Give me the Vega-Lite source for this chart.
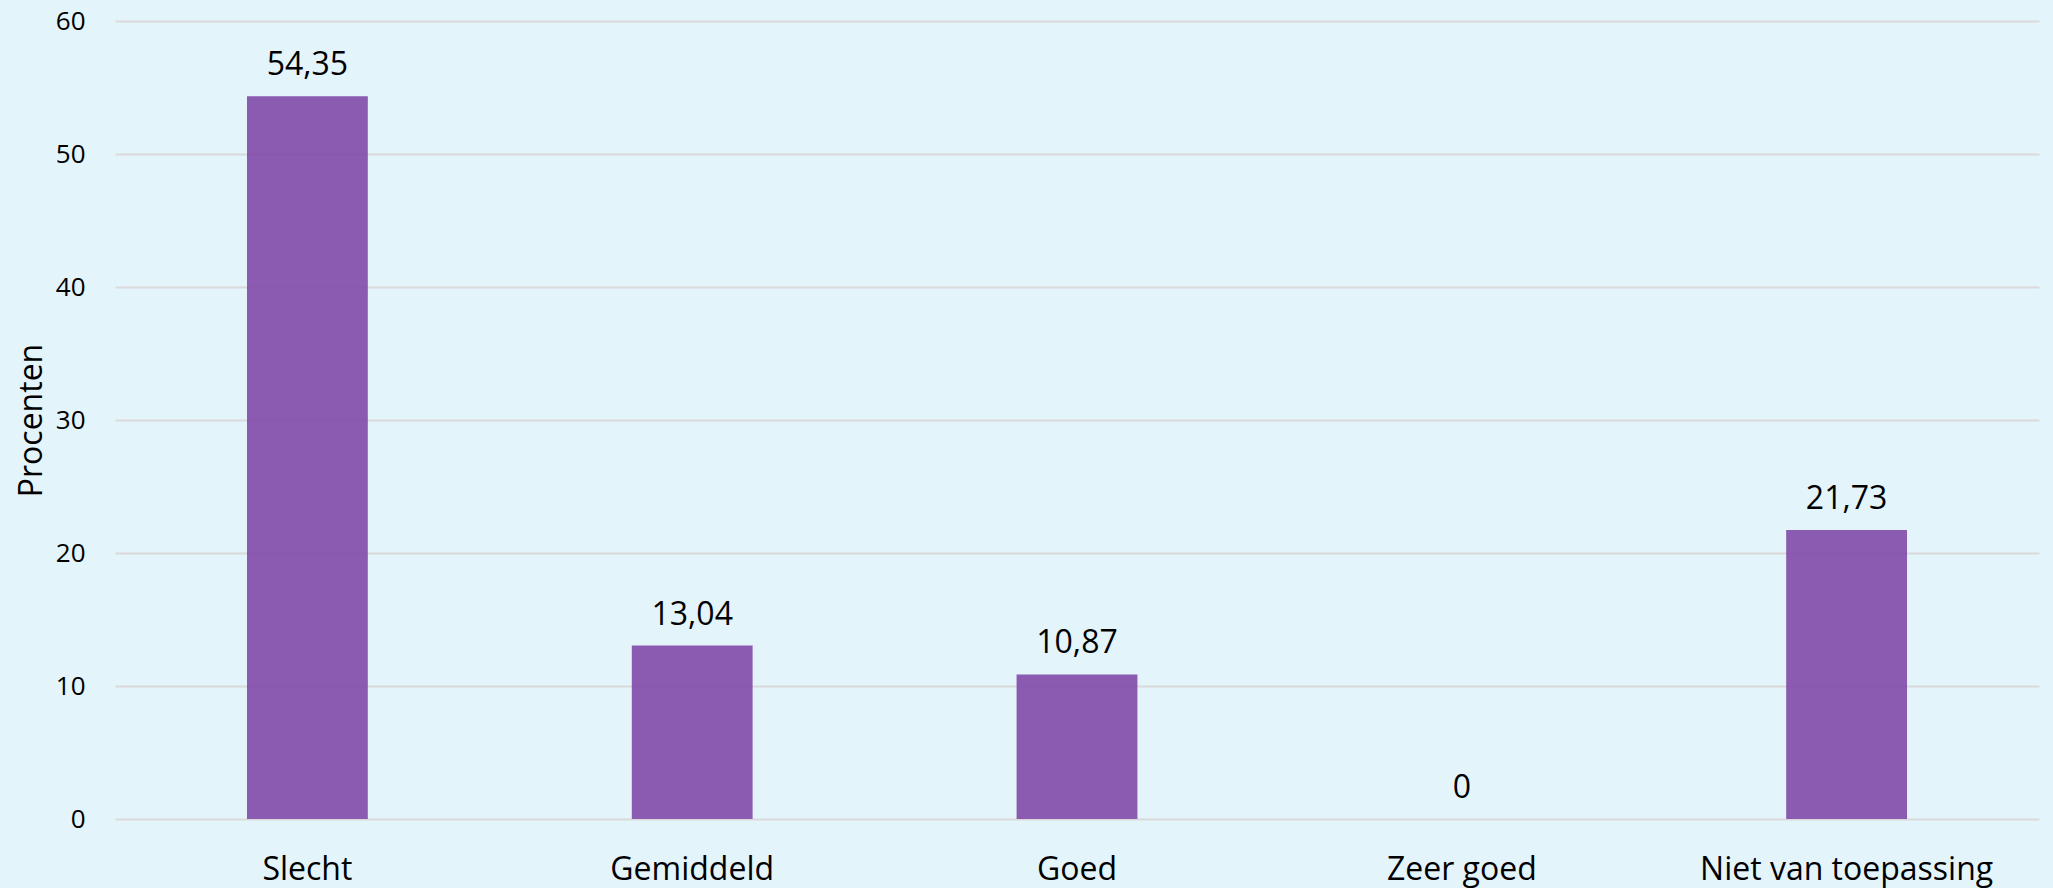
{
  "$schema": "https://vega.github.io/schema/vega-lite/v6.json",
  "autosize": "none",
  "width": 1924,
  "height": 798,
  "padding": {"left": 115, "top": 21, "right": 14, "bottom": 69},
  "background": "#E4F4FB",
  "config": {
    "view": {"stroke": null},
    "font": "Open Sans"
  },
  "data": {
    "values": [
      {"categorie": "Slecht", "waarde": 54.35, "label": "54,35"},
      {"categorie": "Gemiddeld", "waarde": 13.04, "label": "13,04"},
      {"categorie": "Goed", "waarde": 10.87, "label": "10,87"},
      {"categorie": "Zeer goed", "waarde": 0, "label": "0"},
      {"categorie": "Niet van toepassing", "waarde": 21.73, "label": "21,73"}
    ]
  },
  "encoding": {
    "x": {
      "field": "categorie",
      "type": "nominal",
      "sort": null,
      "scale": {"paddingInner": 0.686, "paddingOuter": 0.343},
      "axis": {
        "title": null,
        "labelAngle": 0,
        "labelFontSize": 32,
        "labelLimit": 0,
        "labelColor": "#000000",
        "labelPadding": 35,
        "ticks": false,
        "domain": false,
        "grid": false
      }
    },
    "y": {
      "field": "waarde",
      "type": "quantitative",
      "scale": {"domain": [0, 60]},
      "axis": {
        "title": "Procenten",
        "titleFontSize": 32,
        "titleFontWeight": "normal",
        "titleColor": "#000000",
        "titlePadding": 7,
        "values": [0, 10, 20, 30, 40, 50, 60],
        "labelFontSize": 26,
        "labelColor": "#000000",
        "labelPadding": 30,
        "ticks": false,
        "domain": false,
        "gridColor": "#D9D9D9",
        "gridWidth": 2
      }
    }
  },
  "layer": [
    {
      "mark": {"type": "bar", "color": "#8652AD", "opacity": 0.95}
    },
    {
      "mark": {"type": "text", "baseline": "alphabetic", "dy": -21, "fontSize": 32, "color": "#000000"},
      "encoding": {"text": {"field": "label"}}
    }
  ]
}
